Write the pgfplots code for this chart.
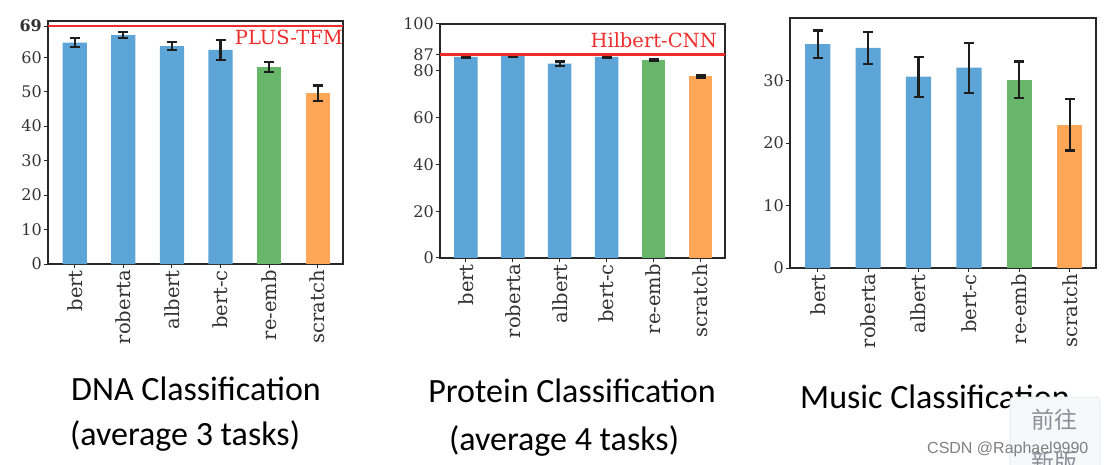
\documentclass[border=0pt]{standalone}
\usepackage{fontspec}
\usepackage{pgfplots}
\pgfplotsset{compat=1.18}
\setmainfont{DejaVu Serif}
\newfontfamily\capfont{Carlito}
\newfontfamily\wmfont{Liberation Sans}
\newfontfamily\cjk{Noto Sans CJK SC}
\definecolor{cblue}{RGB}{93,165,214}
\definecolor{cgreen}{RGB}{104,182,106}
\definecolor{corange}{RGB}{255,167,86}
\definecolor{cred}{RGB}{240,45,45}
\definecolor{frame}{RGB}{40,40,40}
\definecolor{ebc}{RGB}{30,30,30}
\definecolor{btnfill}{RGB}{247,248,250}
\definecolor{btnline}{RGB}{228,230,235}
\definecolor{btntext}{RGB}{138,143,153}
\pgfplotsset{
  mybar/.style={
    scale only axis,
    axis line style={frame, line width=1.4pt},
    xmin=-0.55, xmax=5.52, ymin=0,
    xtick={0,1,2,3,4,5},
    xticklabels={bert,roberta,albert,bert-c,re-emb,scratch},
    xticklabel style={rotate=90, anchor=east, font=\fontsize{19.5}{20}\selectfont, text=black!80, inner sep=2pt},
    yticklabel style={font=\fontsize{16}{18}\selectfont, text=black!80, inner sep=2pt},
    tick align=outside, major tick length=4pt,
    tick style={frame, line width=1pt},
    tick pos=left,
  },
  eb/.style={ybar, bar width=0.5, bar shift=0pt, draw=none,
    error bars/.cd, y dir=both, y explicit,
    error bar style={draw=ebc, line width=2.2pt},
    error mark options={draw=ebc, line width=2.2pt, mark size=5pt, rotate=90}},
}
\begin{document}
\begin{tikzpicture}[x=1pt,y=1pt]
\useasboundingbox (0,0) rectangle (1104,-465);
% ---------------- DNA ----------------
\begin{axis}[mybar, at={(48pt,-264pt)}, anchor=south west, width=295pt, height=243pt,
  ymax=70.5, ytick={0,10,20,30,40,50,60,69},
  yticklabels={0,10,20,30,40,50,60,\textbf{69}}]
\addplot[fill=cblue, eb] coordinates {(0,64.2) +- (0,1.3) (1,66.4) +- (0,0.8) (2,63.2) +- (0,1.2) (3,62.1) +- (0,3.0)};
\addplot[fill=cgreen, eb] coordinates {(4,57.1) +- (0,1.5)};
\addplot[fill=corange, eb] coordinates {(5,49.6) +- (0,2.2)};
\addplot[cred, line width=2.2pt, forget plot] coordinates {(-0.55,69) (5.52,69)};
\node[anchor=north east, inner sep=0pt, text=cred, font=\fontsize{19.5}{20}\selectfont, yshift=-4pt] at (axis cs:5.52,69) {PLUS-TFM};
\end{axis}
% ---------------- Protein ----------------
\begin{axis}[mybar, at={(440pt,-258pt)}, anchor=south west, width=285pt, height=234pt,
  ymax=100, ytick={0,20,40,60,80,87,100},
  yticklabels={0,20,40,60,80,87,100}]
\addplot[fill=cblue, eb] coordinates {(0,85.9) +- (0,0.5) (1,86.4) +- (0,0.3) (2,83.1) +- (0,0.9) (3,86.0) +- (0,0.5)};
\addplot[fill=cgreen, eb] coordinates {(4,84.7) +- (0,0.4)};
\addplot[fill=corange, eb] coordinates {(5,77.6) +- (0,0.5)};
\addplot[cred, line width=2.2pt, forget plot] coordinates {(-0.55,87) (5.52,87)};
\node[anchor=base east, inner sep=0pt, text=cred, font=\fontsize{19.5}{20}\selectfont, yshift=7pt, xshift=-8pt] at (axis cs:5.52,87) {Hilbert-CNN};
\end{axis}
% ---------------- Music ----------------
\begin{axis}[mybar, at={(790pt,-268pt)}, anchor=south west, width=306pt, height=250pt,
  ymax=40, ytick={0,10,20,30},
  yticklabels={0,10,20,30}]
\addplot[fill=cblue, eb] coordinates {(0,35.8) +- (0,2.2) (1,35.2) +- (0,2.6) (2,30.6) +- (0,3.2) (3,32.05) +- (0,4.0)};
\addplot[fill=cgreen, eb] coordinates {(4,30.1) +- (0,2.95)};
\addplot[fill=corange, eb] coordinates {(5,22.9) +- (0,4.1)};
\end{axis}
% ---------------- captions ----------------
\begin{scope}[every node/.style={font=\capfont\fontsize{34}{40}\selectfont, inner sep=0pt}]
\node[anchor=base] at (196,-400) {DNA Classification};
\node[anchor=base] at (185,-445) {(average 3 tasks)};
\node[anchor=base] at (572,-402) {Protein Classification};
\node[anchor=base] at (564,-450) {(average 4 tasks)};
\node[anchor=base west] at (800,-408) {Music Classification};
\end{scope}
% ---------------- page overlay ----------------
\draw[fill=btnfill, draw=btnline, line width=0.8pt, rounded corners=4pt] (1010,-397) rectangle (1100,-480);
\node[anchor=base, inner sep=0pt, text=btntext, font=\cjk\fontsize{23}{26}\selectfont] at (1054,-428) {前往};
\node[anchor=base, inner sep=0pt, text=btntext, font=\cjk\fontsize{23}{26}\selectfont] at (1054,-470) {新版};
\node[anchor=base west, inner sep=0pt, text=black!50, font=\wmfont\fontsize{16}{18}\selectfont] at (927,-453) {CSDN @Raphael9990};
\end{tikzpicture}
\end{document}
